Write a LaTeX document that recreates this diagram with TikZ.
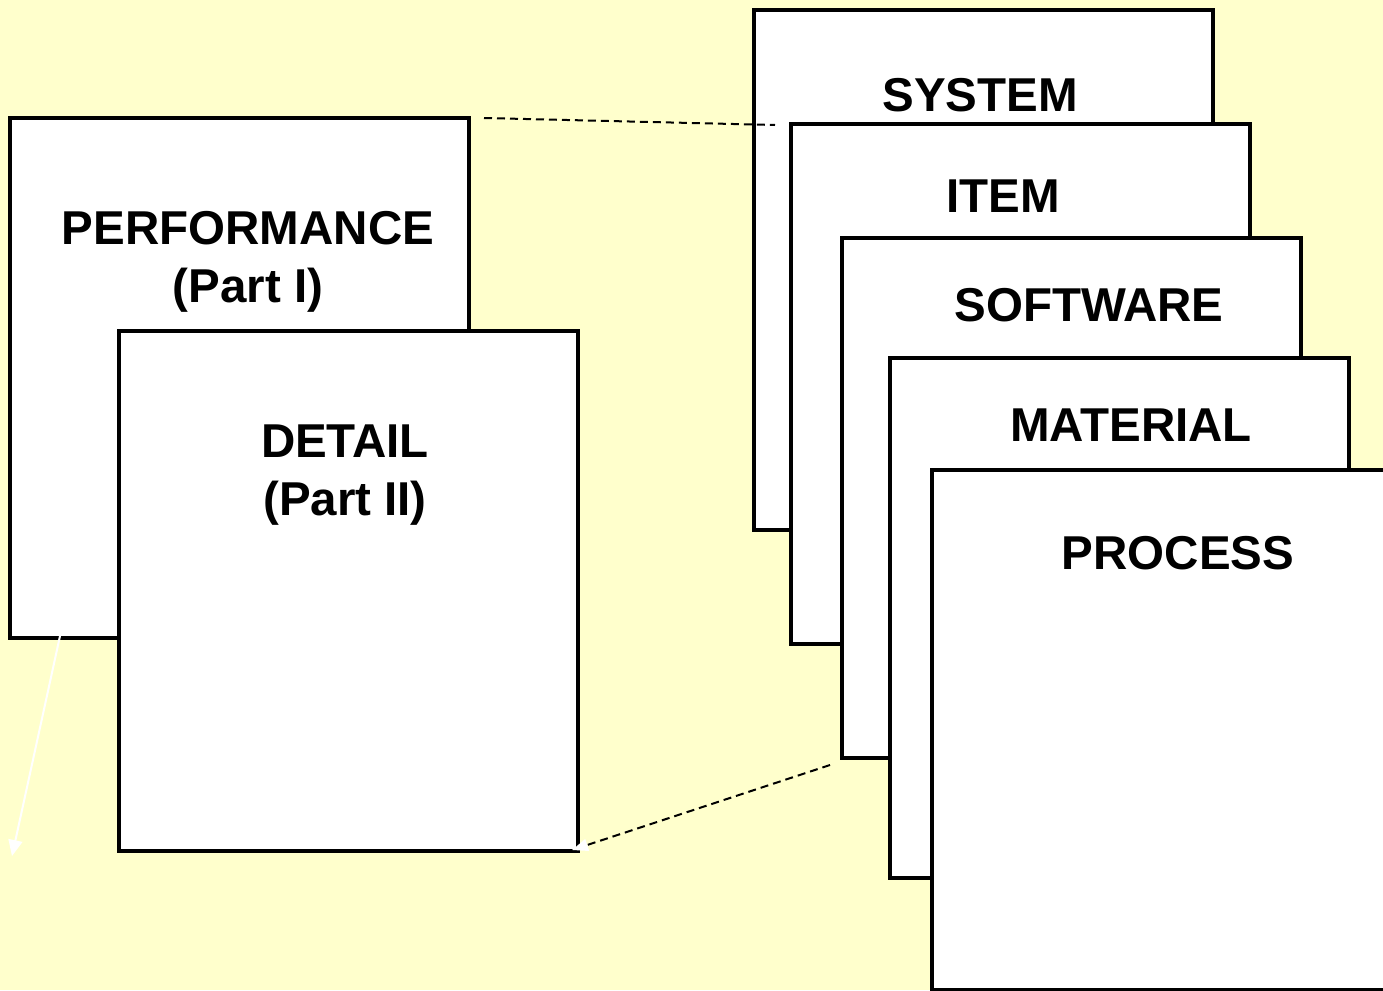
\documentclass[tikz,border=0pt]{standalone}
\usepackage{fontspec}
\setmainfont{Liberation Sans}
\usetikzlibrary{arrows.meta}
\definecolor{paper}{HTML}{FFFFCC}
\tikzset{
  sheet/.style={draw=black, line width=4pt, fill=white, rectangle, inner sep=0pt,
    minimum width=459pt, minimum height=520pt, anchor=north west},
  title/.style={font=\fontsize{47.5}{56}\selectfont\bfseries, anchor=base, inner sep=0pt, align=center},
  link/.style={dashed, dash pattern=on 8pt off 5pt, line width=2pt, black},
}
\begin{document}
\begin{tikzpicture}[x=1pt, y=-1pt]
  \fill[paper] (0,0) rectangle (1383,990);
  \useasboundingbox (0,0) rectangle (1383,990);
  \begin{scope}
    \clip (0,0) rectangle (1383,990);
    % specification parts
    \node[sheet] (perf) at (8,116) {};
    \node[sheet] (detail) at (117,329) {};
    % stacked specification types
    \node[sheet] (system) at (752,8) {};
    \node[sheet] (item) at (789,122) {};
    \node[sheet] (software) at (840,236) {};
    \node[sheet] (material) at (888,356) {};
    \node[sheet] (process) at (930,468) {};
  \end{scope}

  \node[title] (tperf) at (248,244) {PERFORMANCE};
  \node[title] (tpart1) at (248,302) {(Part I)};
  \node[title] (tdetail) at (345,457) {DETAIL};
  \node[title] (tpart2) at (345,515) {(Part II)};
  \node[title] (tsystem) at (980,111) {SYSTEM};
  \node[title] (titem) at (1003,212) {ITEM};
  \node[title] (tsoftware) at (1089,321) {SOFTWARE};
  \node[title] (tmaterial) at (1131,441) {MATERIAL};
  \node[title] (tprocess) at (1178,569) {PROCESS};

  % connector end points
  \coordinate (a1) at (484,118);
  \coordinate (a2) at (775,125);
  \coordinate (b1) at (830,765);
  \coordinate (b2) at (572,850);
  \coordinate (c1) at (60,636);
  \coordinate (c2) at (12,856);

  \draw[link] (a1) -- (a2);
  \draw[link, -{Triangle[length=16pt, width=12pt, fill=white, color=white]}] (b1) -- (b2);
  \draw[white, line width=2pt, -{Triangle[length=16pt, width=14pt]}] (c1) -- (c2);
\end{tikzpicture}
\end{document}
